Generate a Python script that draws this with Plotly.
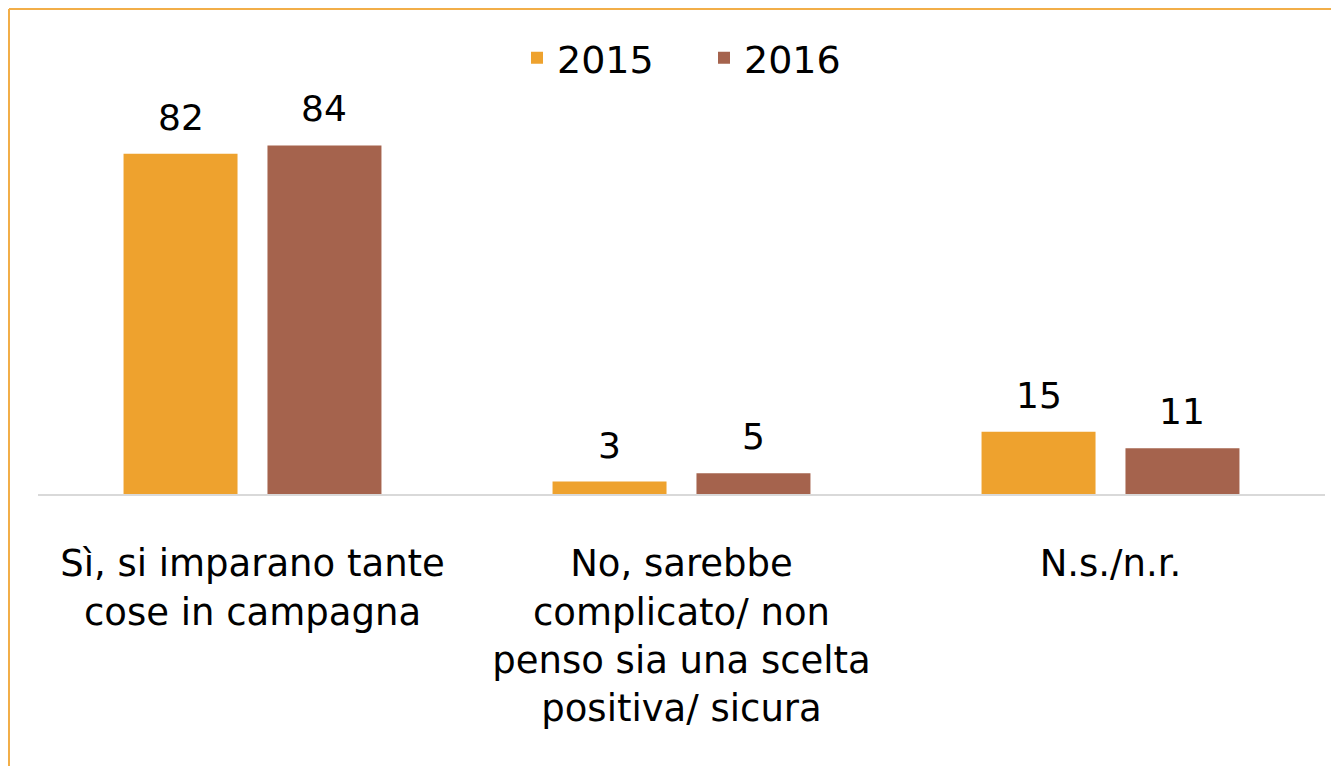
import plotly.graph_objects as go

categories = ["Sì, si imparano tante<br>cose in campagna",
              "No, sarebbe<br>complicato/ non<br>penso sia una scelta<br>positiva/ sicura",
              "N.s./n.r."]
series_names = ["2015", "2016"]
values_2015 = [82, 3, 15]
values_2016 = [84, 5, 11]
colors = ["#EEA22E", "#A5634D"]

# page has an 8px body margin, so the figure is drawn 8px smaller
W, H = 1331, 758
L, R, T, B = 30, 14, 71, 272
FONT = "DejaVu Sans"

fig = go.Figure()
for name, vals, col in zip(series_names, [values_2015, values_2016], colors):
    fig.add_trace(go.Bar(name=name, x=categories, y=vals, marker_color=col,
                         marker_line_width=0))

# value labels above bars
bargap, groupgap = 0.329, 0.208
slot = (1 - bargap) / 2
for k, vals in enumerate([values_2015, values_2016]):
    off = (k - 0.5) * slot
    for i, v in enumerate(vals):
        fig.add_annotation(x=i + off, y=v, text=str(v), showarrow=False,
                           yanchor="bottom", yshift=14, xref="x", yref="y",
                           font=dict(family=FONT, size=36, color="#000000"))

pw, ph = W - L - R, H - T - B
# orange frame (top and left)
ytop = (H - B - 1) / ph
xleft = (1 - L) / pw
fig.add_shape(type="line", xref="paper", yref="paper", x0=xleft, x1=(W - L + 5) / pw,
              y0=ytop, y1=ytop, line=dict(color="#F2AE48", width=2))
fig.add_shape(type="line", xref="paper", yref="paper", x0=xleft, x1=xleft,
              y0=ytop, y1=-(B + 5) / ph, line=dict(color="#F2AE48", width=2))

fig.update_layout(
    width=W, height=H,
    margin=dict(l=L, r=R, t=T, b=B, autoexpand=False),
    paper_bgcolor="white", plot_bgcolor="white",
    barmode="group", bargap=bargap, bargroupgap=groupgap,
    showlegend=True,
    legend=dict(orientation="h", x=(517 - 8 - L) / pw, xanchor="left",
                y=(H - B - 50) / ph, yanchor="middle",
                font=dict(family=FONT, size=38, color="#000000"),
                itemwidth=30, entrywidth=142, entrywidthmode="pixels",
                traceorder="normal"),
    font=dict(family=FONT, color="#000000"),
)
fig.update_xaxes(showline=True, linecolor="#D9D9D9", linewidth=2, showgrid=False,
                 ticks="", ticklabelstandoff=36,
                 tickfont=dict(family=FONT, size=37, color="#000000"))
fig.update_yaxes(range=[0, 100], visible=False, showgrid=False, zeroline=False)

fig.write_html("out.html")
